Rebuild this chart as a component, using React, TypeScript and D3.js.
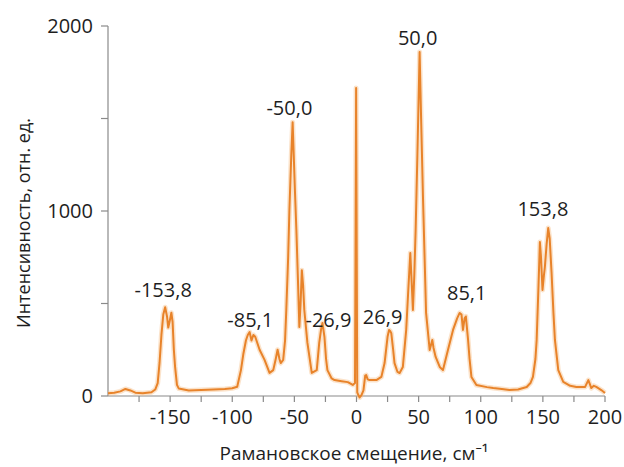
import React from "react";
import * as d3 from "d3";

const shift: number[] = [
  -200, -195, -190, -186, -182, -178, -172, -165, -162, -160, -158.5, -157, -155.5, -154, -152.5, -151.5, -150.5, -149, -148, -147, -146, -144.5, -143, -135, -125, -115, -106, -100, -96, -93, -91, -89, -87.5, -86, -84.5, -83, -81.5, -78, -74, -70, -67, -65, -63.5, -62, -61, -59, -57.5, -56.5, -55, -54, -52.5, -51.4, -50.5, -49.5, -48.4, -47, -46, -45, -44, -43, -42, -39.5, -36, -32, -30, -28.5, -27.4, -25.8, -24.5, -23.4, -20, -17.7, -12, -7, -3, -1.2, -0.3, 0.6, 1.5, 2.5, 4, 5.6, 7, 7.8, 9, 10.5, 16, 20, 22.6, 25, 26.2, 27.2, 28, 29.5, 30.6, 33, 34.7, 37.3, 40, 41.5, 43.3, 44.5, 45.4, 46.5, 47.6, 49, 50.8, 52, 53.5, 55, 56, 58.9, 61, 62, 63.7, 67, 69.6, 73.6, 77.7, 81, 83, 84.5, 85.7, 87, 88, 89.8, 91, 92.5, 96.5, 105, 110, 117, 123, 130, 137, 140, 142, 144, 145, 146.5, 147.6, 148.5, 149.7, 150.8, 151.6, 153, 154.3, 155.5, 157, 158.5, 159.7, 162.4, 166.4, 172, 177, 184, 186.6, 189, 191, 193, 197, 200,
];

const intensity: number[] = [
  15, 18, 25, 38, 30, 18, 15, 20, 35, 70, 180, 330, 440, 480, 430, 370, 400, 450, 400, 250, 157, 60, 40, 30, 32, 35, 38, 42, 50, 140, 230, 300, 330, 345, 300, 330, 320, 250, 195, 125, 140, 200, 250, 200, 178, 195, 300, 465, 750, 1005, 1300, 1480, 1300, 1100, 900, 600, 373, 500, 680, 600, 465, 287, 125, 140, 287, 360, 395, 320, 200, 140, 95, 86, 80, 75, 60, 70, 1665, 20, 5, -8, 5, 30, 110, 113, 90, 86, 86, 103, 178, 320, 357, 350, 340, 250, 178, 130, 124, 157, 357, 550, 773, 600, 465, 650, 897, 1300, 1860, 1500, 1076, 700, 449, 249, 303, 260, 211, 157, 140, 249, 357, 420, 449, 440, 357, 420, 430, 303, 200, 103, 59, 48, 43, 38, 32, 35, 49, 70, 103, 200, 303, 600, 832, 750, 573, 650, 697, 820, 908, 850, 665, 450, 303, 140, 76, 55, 49, 49, 86, 43, 55, 49, 32, 16,
];

const xTickLabels: number[] = [-150, -100, -50, 0, 50, 100, 150, 200];
const xMinorTicks: number[] = [-175, -150, -125, -100, -75, -50, -25, 0, 25, 50, 75, 100, 125, 150, 175, 200];
const yTickLabels: number[] = [0, 1000, 2000];
const yMinorTicks: number[] = [0, 500, 1000, 1500, 2000];

const peakLabels: string[] = ["-153,8", "-85,1", "-50,0", "-26,9", "26,9", "50,0", "85,1", "153,8"];
const peakLabelX: number[] = [-155.6, -85.5, -54, -22.6, 21, 49.2, 88.7, 150];
const peakLabelY: number[] = [535, 373, 1519, 373, 389, 1897, 519, 973];

const xTitle = "Рамановское смещение, см⁻¹";
const yTitle = "Интенсивность, отн. ед.";

export default function App() {
  const W = 624;
  const H = 467;
  const x = d3.scaleLinear().domain([-200, 200]).range([108, 605]);
  const y = d3.scaleLinear().domain([0, 2000]).range([396, 26]);
  const pts: [number, number][] = shift.map((s, i) => [s, intensity[i]]);
  const line = d3
    .line<[number, number]>()
    .x((d) => x(d[0]))
    .y((d) => y(d[1]));
  const path = line(pts) || "";
  const font = "'Open Sans', 'Noto Sans', sans-serif";
  const axisColor = "#8a8a8a";
  const textColor = "#1e1e1e";
  const orange = "#E8832A";

  return (
    <svg
      width={W}
      height={H}
      style={{ position: "absolute", left: 0, top: 0, background: "#fff" }}
      fontFamily={font}
    >
      {/* axes */}
      <line x1={x(-200)} x2={x(200)} y1={y(0)} y2={y(0)} stroke={axisColor} strokeWidth={1.2} />
      <line x1={x(-200)} x2={x(-200)} y1={y(0)} y2={y(2000)} stroke={axisColor} strokeWidth={1.2} />
      {xMinorTicks.map((t) => (
        <line key={"xt" + t} x1={x(t)} x2={x(t)} y1={y(0)} y2={y(0) + 6} stroke={axisColor} strokeWidth={1.2} />
      ))}
      {yMinorTicks.map((t) => (
        <line key={"yt" + t} x1={x(-200) - 7} x2={x(-200)} y1={y(t)} y2={y(t)} stroke={axisColor} strokeWidth={1.2} />
      ))}
      {xTickLabels.map((t) => (
        <text key={"xl" + t} x={x(t)} y={y(0) + 28} textAnchor="middle" fontSize={20} fill={textColor}>
          {t}
        </text>
      ))}
      {yTickLabels.map((t) => (
        <text key={"yl" + t} x={x(-200) - 15} y={y(t) + 7} textAnchor="end" fontSize={20} fill={textColor}>
          {t}
        </text>
      ))}
      {/* spectrum */}
      <path d={path} fill="none" stroke="#F6C08C" strokeOpacity={0.45} strokeWidth={5} strokeLinejoin="round" />
      <path d={path} fill="none" stroke={orange} strokeWidth={2} strokeLinejoin="round" />
      {/* peak labels */}
      {peakLabels.map((l, i) => (
        <text key={"pk" + i} x={x(peakLabelX[i])} y={y(peakLabelY[i])} textAnchor="middle" fontSize={20} fill={textColor}>
          {l}
        </text>
      ))}
      {/* titles */}
      <text x={354} y={460} textAnchor="middle" fontSize={19} fill={textColor}>
        {xTitle}
      </text>
      <text
        transform={`translate(30, 223) rotate(-90)`}
        textAnchor="middle"
        fontSize={18}
        fill={textColor}
      >
        {yTitle}
      </text>
    </svg>
  );
}
